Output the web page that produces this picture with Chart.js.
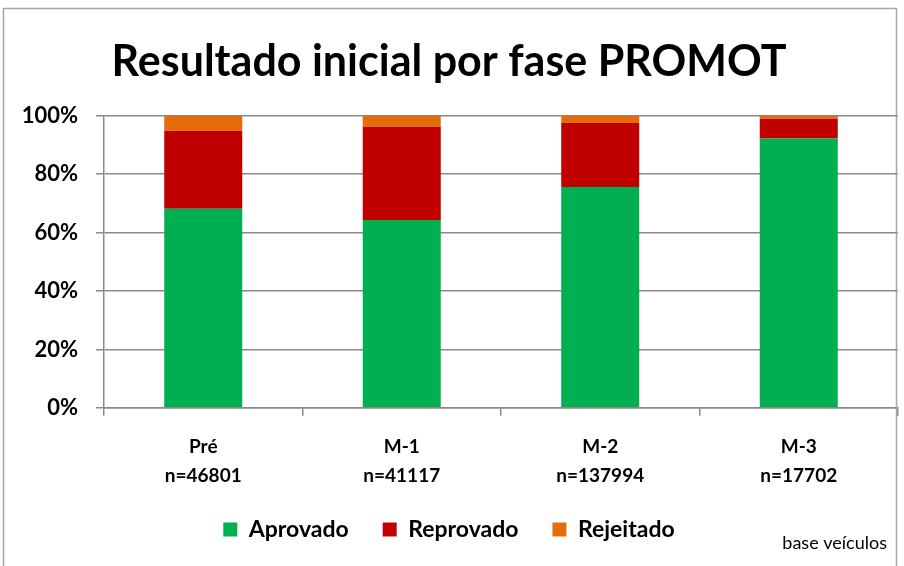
<!doctype html>
<html lang="pt">
<head>
  <meta charset="utf-8">
  <title>Resultado inicial por fase PROMOT</title>
  <script src="https://cdn.jsdelivr.net/npm/chart.js"></script>
  <style>
    body { margin: 0; background: #fff; }
    #wrap { width: 904px; height: 566px; position: relative; }
  </style>
</head>
<body>
  <div id="wrap"><canvas id="chart" width="904" height="566"></canvas></div>

<script>
var fases = [["Pré", "n=46801"], ["M-1", "n=41117"], ["M-2", "n=137994"], ["M-3", "n=17702"]];
var aprovado = [68.1, 64.3, 75.6, 92.2];
var reprovado = [26.7, 31.9, 21.9, 6.7];
var rejeitado = [5.2, 3.8, 2.5, 1.1];

var fonte = "Lato, 'Open Sans', sans-serif";
var cinza = "#898989";

// moldura, nota "base veículos" e legenda um pouco mais perto do eixo
var extras = {
  id: "extras",
  afterLayout: function(chart) {
    var lg = chart.legend;
    if (lg) { lg.top -= 22; lg.bottom -= 22; }
  },
  afterDraw: function(chart) {
    var ctx = chart.ctx;
    ctx.save();
    ctx.strokeStyle = "#a6a6a6";
    ctx.lineWidth = 1.5;
    ctx.strokeRect(3.5, 8.5, 893, 570);
    ctx.fillStyle = "#000";
    ctx.font = "18px " + fonte;
    ctx.textAlign = "right";
    ctx.textBaseline = "middle";
    ctx.fillText("base veículos", 887, 543);
    ctx.restore();
  }
};

new Chart(document.getElementById("chart"), {
  type: "bar",
  data: {
    labels: fases,
    datasets: [
      { label: "Aprovado", data: aprovado, backgroundColor: "#00B050" },
      { label: "Reprovado", data: reprovado, backgroundColor: "#C00000" },
      { label: "Rejeitado", data: rejeitado, backgroundColor: "#E46C0A" }
    ]
  },
  options: {
    responsive: false,
    animation: false,
    layout: { padding: { left: 0, right: 6, top: 0, bottom: -7 } },
    datasets: { bar: { categoryPercentage: 1, barPercentage: 0.393 } },
    plugins: {
      title: {
        display: true,
        text: "Resultado inicial por fase PROMOT",
        color: "#000",
        font: { family: fonte, size: 43, weight: "bold" },
        padding: { top: 36, bottom: 28 }
      },
      legend: {
        position: "bottom",
        labels: {
          color: "#000",
          font: { family: fonte, size: 23, weight: "bold", lineHeight: 1.0 },
          boxWidth: 14,
          boxHeight: 14,
          padding: 34
        }
      },
      tooltip: { enabled: false }
    },
    scales: {
      x: {
        stacked: true,
        grid: { display: true, drawOnChartArea: false, color: cinza, lineWidth: 1.5, tickLength: 8, offset: true },
        border: { color: cinza, width: 1.5 },
        ticks: { color: "#000", font: { family: fonte, size: 19, weight: "bold", lineHeight: 1.53 }, padding: 16 }
      },
      y: {
        stacked: true,
        min: 0,
        max: 100,
        afterFit: function(s) { s.width = 104; },
        grid: { color: cinza, lineWidth: 1.5, tickLength: 8 },
        border: { color: cinza, width: 1.5 },
        ticks: {
          stepSize: 20,
          color: "#000",
          padding: 18,
          font: { family: fonte, size: 22, weight: "bold" },
          callback: function(v) { return v + "%"; }
        }
      }
    }
  },
  plugins: [extras]
});
</script>
</body>
</html>
